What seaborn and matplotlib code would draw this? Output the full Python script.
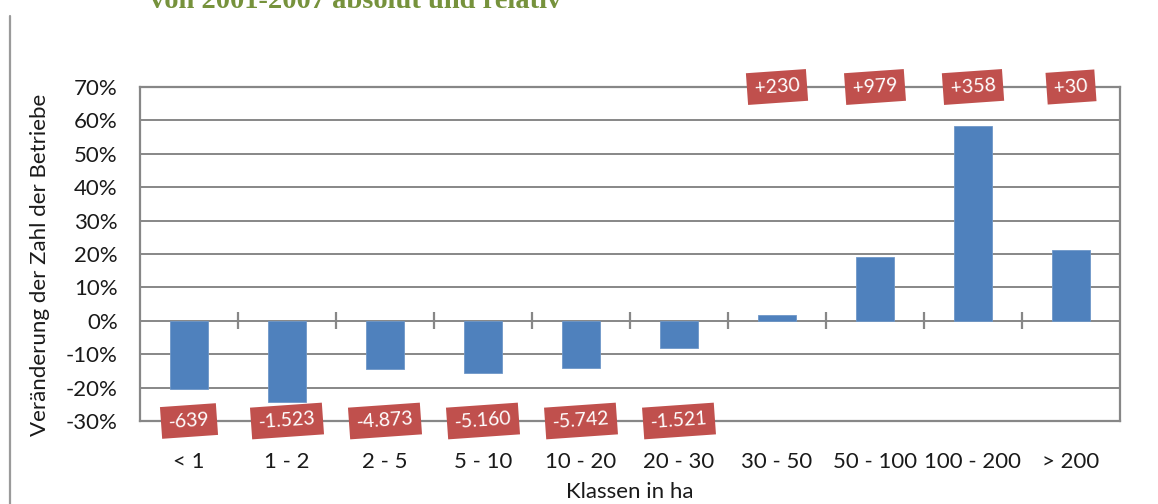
import matplotlib
matplotlib.use("Agg")
import matplotlib.pyplot as plt
from matplotlib.lines import Line2D
from matplotlib.ticker import FuncFormatter, MultipleLocator
import pandas as pd
import seaborn as sns

# Farm size classes (ha) and the change in the number of farms
categories = ["< 1", "1 - 2", "2 - 5", "5 - 10", "10 - 20", "20 - 30",
              "30 - 50", "50 - 100", "100 - 200", "> 200"]
change_pct = [-20.5, -24.4, -14.5, -15.7, -14.0, -8.0, 1.8, 19.2, 58.3, 21.3]
change_abs = [-639, -1523, -4873, -5160, -5742, -1521, 230, 979, 358, 30]

title_text = "von 2001-2007 absolut und relativ"
y_label = "Veränderung der Zahl der Betriebe"
x_label = "Klassen in ha"

BAR_BLUE = "#4F81BD"
LABEL_RED = "#C0504D"
GRID_GREY = "#878787"
TITLE_GREEN = "#76923C"
TEXT = "#1a1a1a"

sns.set_style("white")
plt.rcParams["font.family"] = ["Lato", "DejaVu Sans"]

df = pd.DataFrame({"Klasse": categories, "Prozent": change_pct, "Absolut": change_abs})

fig = plt.figure(figsize=(11.58, 5.04), dpi=100)
ax = fig.add_axes([140 / 1158, 1 - 421 / 504, 980 / 1158, 334 / 504])

sns.barplot(data=df, x="Klasse", y="Prozent", color=BAR_BLUE, saturation=1,
            width=0.39, ax=ax, zorder=3, edgecolor="#6F97C8", linewidth=0.6)

ax.set_ylim(-30, 70)
ax.set_xlim(-0.5, len(categories) - 0.5)
ax.yaxis.set_major_locator(MultipleLocator(10))
ax.yaxis.set_major_formatter(FuncFormatter(lambda v, _: f"{int(round(v))}%"))
ax.grid(axis="y", color=GRID_GREY, linewidth=1.4, zorder=0)
ax.grid(axis="x", visible=False)
for side in ["left", "right", "top", "bottom"]:
    ax.spines[side].set_visible(True)
    ax.spines[side].set_color(GRID_GREY)
    ax.spines[side].set_linewidth(1.6)

ax.tick_params(axis="y", which="major", length=6, width=1.4, color=GRID_GREY,
               direction="out", pad=10, labelsize=16, labelcolor=TEXT)
ax.tick_params(axis="x", which="major", length=0, pad=22, labelsize=16,
               labelcolor=TEXT)
ax.set_xlabel("")
ax.set_ylabel("")

# category separators crossing the zero line
boundaries = [i + 0.5 for i in range(len(categories) - 1)]
ax.vlines(boundaries, -2.6, 2.6, colors=GRID_GREY, linewidth=1.6, zorder=4)

# absolute changes in red tags: losses along the bottom, gains along the top
for i, n in enumerate(change_abs):
    txt = f"{n:+,}".replace(",", ".")
    ypos = -30 if n < 0 else 70
    ax.text(i, ypos, txt, ha="center", va="center", rotation=4,
            rotation_mode="anchor", color="white", fontsize=14, zorder=6,
            clip_on=False,
            bbox=dict(boxstyle="square,pad=0.38", facecolor=LABEL_RED,
                      edgecolor="none"))

fig.text(40 / 1158, 1 - 265 / 504, y_label, rotation=90, ha="center",
         va="center", fontsize=16, color=TEXT)
fig.text(630 / 1158, 1 - 492 / 504, x_label, ha="center", va="center",
         fontsize=16, color=TEXT)

fig.text(150 / 1158, 1 - 8 / 504, title_text, ha="left", va="baseline",
         fontsize=20.5, fontweight="bold", color=TITLE_GREEN,
         family=["Liberation Serif", "DejaVu Serif"])

fig.add_artist(Line2D([10 / 1158, 10 / 1158], [0, 1 - 16 / 504],
                      transform=fig.transFigure, color="#9a9a9a", linewidth=1.6))

fig.savefig("out.png", dpi=100)
